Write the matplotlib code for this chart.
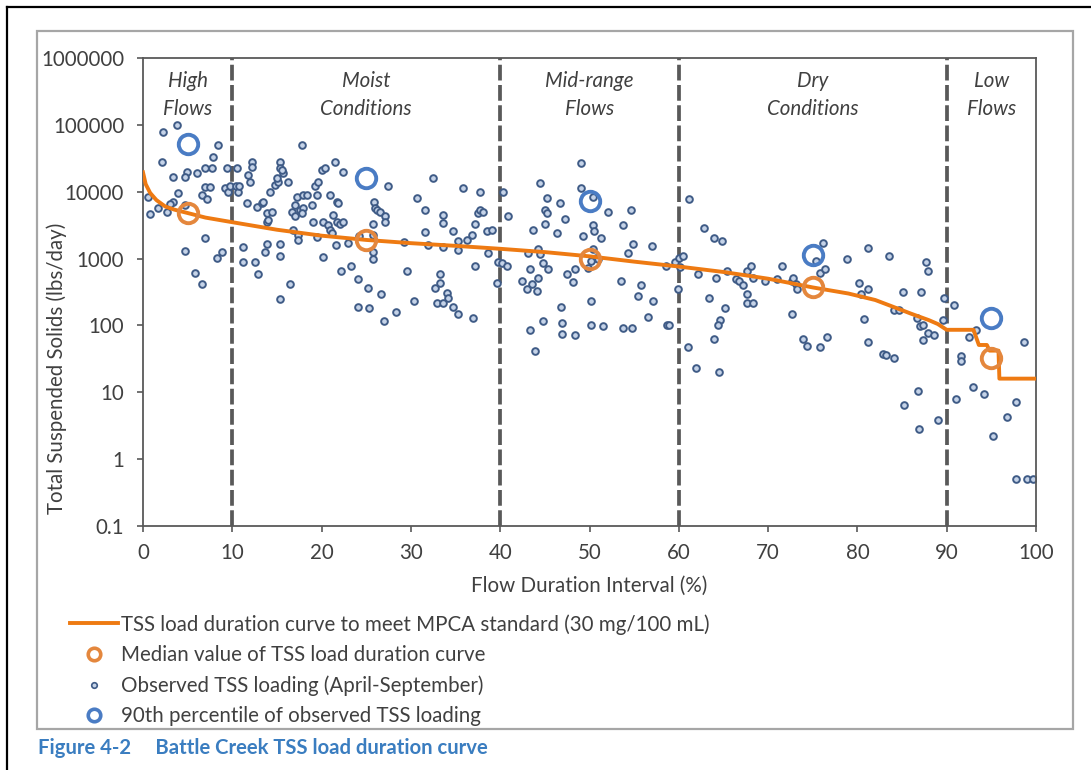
import matplotlib
matplotlib.use("Agg")
import matplotlib.pyplot as plt
from matplotlib.lines import Line2D
from matplotlib.patches import Rectangle
from matplotlib.ticker import FixedLocator, FuncFormatter, NullLocator

plt.rcParams["font.family"] = ["Lato", "DejaVu Sans"]

# load duration curve (flow %, lbs/day)
curve_x = [0, 0.3, 0.8, 1.5, 2.5, 3.5, 5, 7, 10, 15, 20, 25, 30, 35, 40, 45, 50, 55,
           60, 65, 70, 75, 79, 82, 84, 86, 88, 89, 90, 93.0, 93.6, 94.5, 94.8, 95.8, 95.9, 100]
curve_y = [19500, 13000, 9600, 7500, 6000, 5400, 4800, 4100, 3500, 2700, 2200, 1900, 1700, 1550,
           1400, 1250, 1080, 900, 760, 630, 500, 370, 300, 240, 190, 150, 120, 105, 86, 86, 51, 51,
           42, 42, 16, 16]

# medians and 90th percentiles per flow zone
zone_mid = [5, 25, 50, 75, 95]
median_load = [4800, 1900, 1000, 370, 33]
p90_load = [51000, 16000, 7300, 1150, 128]

zone_lines = [10, 40, 60, 90]
zone_names = ["High\nFlows", "Moist\nConditions", "Mid-range\nFlows", "Dry\nConditions", "Low\nFlows"]

# observed loads
high_x = [2.2, 3.8, 2.1, 8.4, 7.8, 3.4, 4.9, 4.7, 6.0, 6.9, 7.7, 6.9, 7.5, 3.9, 6.6, 7.2, 0.6, 3.4,
          3.0, 1.7, 2.7, 0.8, 4.7, 6.9, 4.7, 5.8, 6.6, 8.3, 8.8, 9.4, 9.2, 9.5, 9.7]
high_y = [78000, 100000, 28000, 50000, 33000, 16500, 20000, 16500, 19000, 22500, 22500, 11700,
          11700, 9500, 9000, 7800, 8300, 7000, 6600, 5800, 5000, 4600, 6300, 2000, 1300, 600, 420,
          1030, 1250, 22500, 11300, 10000, 12300]

moist_x = [10.4, 10.5, 10.6, 10.8, 12.2, 12.2, 11.8, 12.0, 11.6, 11.2, 11.2, 12.5, 12.9, 13.9, 13.7,
           12.8, 13.3, 13.4, 13.9, 14.4, 13.9, 14.0, 14.2, 14.8, 15.1, 15.0, 15.3, 15.3, 15.7, 15.6,
           16.2, 15.3, 15.3, 16.5, 15.3, 17.8, 17.2, 17.0, 17.9, 16.7, 17.0, 16.8, 17.4, 17.4, 17.6,
           17.9, 17.8, 18.4, 18.9, 19.0, 19.5, 19.3, 19.6, 19.5, 20.0, 20.4, 20.2, 20.7, 20.9, 21.2,
           20.9, 21.3, 21.7, 21.8, 21.5, 22.4, 21.7, 22.1, 22.4, 20.2, 21.6, 22.2, 23.3, 23.0, 24.1,
           25.2, 24.1, 25.3, 26.7, 27.0, 28.3, 25.9, 26.0, 26.2, 26.5, 27.1, 27.1, 25.8, 25.8, 25.8,
           25.8, 27.4, 24.2, 29.2, 29.6, 30.3, 30.7, 31.6, 31.6, 31.9, 32.5, 32.7, 33.3, 33.3, 34.0,
           34.2, 32.9, 33.6, 34.7, 33.6, 33.6, 33.6, 34.7, 35.3, 35.3, 35.3, 35.8, 36.3, 36.8, 37.0,
           37.2, 37.5, 37.7, 37.7, 38.1, 38.5, 39.1, 38.6, 37.2, 39.6, 39.8]
moist_y = [12300, 22500, 10000, 12300, 28000, 23500, 18000, 14000, 6800, 1500, 900, 880, 590, 1650,
           1250, 6000, 6800, 7000, 4800, 5000, 3500, 3800, 10000, 12700, 14000, 16000, 28000, 22500,
           19000, 21000, 14000, 1650, 1100, 420, 250, 50000, 8300, 6300, 9000, 5000, 4300, 2700, 2250,
           1900, 5300, 5800, 4800, 9000, 6300, 3500, 2100, 12000, 14000, 9000, 21000, 22500, 3500,
           3200, 2700, 2400, 9000, 4500, 7000, 6800, 28000, 19500, 3500, 3300, 3500, 1050, 1600, 650,
           780, 1700, 500, 360, 190, 180, 300, 115, 160, 7000, 5800, 5300, 5000, 4300, 3500, 3300,
           2250, 1250, 1000, 12000, 2200, 1800, 650, 230, 8100, 5300, 2500, 1600, 16000, 360, 430,
           590, 310, 260, 215, 215, 190, 4500, 3400, 1500, 2550, 1850, 150, 1350, 11300, 1900, 2250,
           130, 3300, 4800, 5300, 10000, 5000, 2550, 2700, 1200, 780, 430, 880]

mid_x = [40.2, 40.8, 40.3, 40.9, 44.5, 45.2, 45.0, 45.2, 45.0, 43.7, 46.4, 46.7, 47.3, 49.0, 49.0,
         43.1, 44.2, 44.5, 44.8, 45.4, 43.3, 44.2, 42.4, 43.0, 43.6, 44.1, 47.5, 48.4, 48.2, 49.3,
         50.4, 50.5, 51.3, 50.4, 50.7, 50.2, 49.8, 51.0, 52.1, 53.8, 54.6, 54.9, 54.3, 57.0, 53.5,
         55.8, 55.4, 57.1, 50.2, 46.8, 58.6, 59.6, 60.0, 60.5, 60.1, 59.9, 58.7, 58.9, 43.3, 43.9,
         44.8, 46.9, 46.9, 48.4, 50.2, 51.5, 53.8, 54.8, 56.6, 50.4]
mid_y = [850, 780, 10000, 4300, 13500, 8100, 5300, 4800, 3300, 2700, 2450, 6800, 3900, 27000, 11300,
         1200, 1400, 1170, 850, 700, 700, 510, 460, 350, 410, 330, 590, 700, 450, 2200, 3200, 2550,
         2000, 1400, 1030, 920, 730, 1000, 5000, 3200, 5300, 1650, 1200, 1550, 460, 400, 280, 230,
         230, 190, 780, 880, 1030, 1100, 760, 350, 100, 100, 85, 42, 115, 110, 75, 72, 100, 97, 90,
         90, 135, 8300]

dry_x = [61.1, 62.8, 63.9, 64.8, 62.2, 64.2, 65.4, 67.6, 68.1, 66.4, 66.7, 67.2, 67.6, 68.3, 67.6,
         68.3, 63.4, 65.2, 64.6, 64.4, 63.9, 61.0, 61.9, 64.5, 69.7, 71.0, 71.6, 72.7, 72.8, 73.1,
         73.2, 72.7, 73.9, 74.4, 75.8, 76.6, 75.4, 75.8, 76.4, 76.2, 78.8, 80.2, 80.4, 81.2, 81.2,
         80.7, 81.2, 83.5, 87.7, 87.9, 85.1, 87.1, 84.1, 84.7, 86.7, 87.0, 87.3, 87.3, 87.9, 88.6,
         82.9, 83.2, 84.1, 86.8, 85.2, 86.9, 89.0, 89.7, 89.6]
dry_y = [7700, 2850, 2000, 1850, 590, 520, 650, 650, 780, 500, 460, 400, 300, 520, 215, 215, 260,
         180, 120, 100, 63, 47, 23, 20, 460, 500, 780, 460, 520, 420, 350, 150, 63, 50, 48, 67, 930,
         610, 700, 1700, 1000, 430, 300, 350, 1450, 125, 57, 1100, 880, 650, 320, 320, 170, 170, 130,
         97, 100, 60, 78, 72, 38, 36, 33, 10.5, 6.4, 2.8, 3.9, 260, 120]

low_x = [90.8, 92.5, 93.3, 91.6, 91.6, 91.0, 92.9, 94.2, 95.2, 96.8, 97.8, 98.7, 97.8, 99.0, 99.7]
low_y = [200, 68, 86, 35, 29, 8, 12, 9.5, 2.2, 4.2, 7.2, 57, 0.5, 0.5, 0.5]

obs_x = high_x + moist_x + mid_x + dry_x + low_x
obs_y = high_y + moist_y + mid_y + dry_y + low_y

ORANGE = "#EE7A12"
MED_ORANGE = "#E4873D"
BLUE = "#4A7CC4"
DOT_EDGE = "#3F5B86"
DOT_FACE = "#C5D3E8"
GREY = "#595959"
TXT = "#404040"
FS = 14.8

fig = plt.figure(figsize=(10.91, 7.70), dpi=100)
W, H = 1091, 770

# page frame and chart border
fig.add_artist(Line2D([7 / W, 7 / W], [0, 1 - 7 / H], color="black", lw=1.6))
fig.add_artist(Line2D([7 / W, 1], [1 - 7 / H, 1 - 7 / H], color="black", lw=1.6))
fig.add_artist(Rectangle((37 / W, 1 - 729 / H), (1073 - 37) / W, (729 - 31) / H,
                         fill=False, edgecolor="#A6A6A6", lw=1.6))

ax = fig.add_axes([143 / W, 1 - 526 / H, (1036 - 143) / W, (526 - 58) / H])
ax.set_yscale("log")
ax.set_xlim(0, 100)
ax.set_ylim(0.1, 1000000)

for xv in zone_lines:
    ax.axvline(xv, color=GREY, lw=2.7, dashes=(4.2, 1.2), zorder=1)

ax.plot(obs_x, obs_y, "o", ms=4.8, mfc=DOT_FACE, mec=DOT_EDGE, mew=1.4, ls="none", zorder=2)
ax.plot(curve_x, curve_y, color=ORANGE, lw=2.8, zorder=3)
ax.plot(zone_mid, median_load, "o", ms=14, mfc="none", mec=MED_ORANGE, mew=2.8, zorder=4)
ax.plot(zone_mid, p90_load, "o", ms=14, mfc="none", mec=BLUE, mew=2.8, zorder=4)

for xm, name in zip(zone_mid, zone_names):
    ax.text(xm, 280000, name, ha="center", va="center", style="italic",
            fontsize=FS, color=TXT, linespacing=1.45)

ax.yaxis.set_major_locator(FixedLocator([0.1, 1, 10, 100, 1000, 10000, 100000, 1000000]))
ax.yaxis.set_minor_locator(NullLocator())
ax.yaxis.set_major_formatter(FuncFormatter(lambda v, p: f"{v:.1f}" if v < 1 else f"{int(round(v))}"))
ax.set_xticks(range(0, 101, 10))
ax.tick_params(axis="both", direction="out", length=4.5, width=1.2, color=GREY,
               labelsize=FS, labelcolor=TXT)
ax.tick_params(axis="y", pad=9)
ax.tick_params(axis="x", pad=8)
for sp in ax.spines.values():
    sp.set_color(GREY)
    sp.set_linewidth(1.3)

ax.set_xlabel("Flow Duration Interval (%)", fontsize=FS, color=TXT, labelpad=9)
# y label sits low, starting near the bottom of the axis
fig.text(57 / W, 1 - 514 / H, "Total Suspended Solids (lbs/day)", rotation=90,
         ha="center", va="bottom", fontsize=FS, color=TXT)

handles = [
    Line2D([], [], color=ORANGE, lw=2.8),
    Line2D([], [], marker="o", ls="none", ms=9, mfc="none", mec=MED_ORANGE, mew=2.6),
    Line2D([], [], marker="o", ls="none", ms=4, mfc=DOT_FACE, mec=DOT_EDGE, mew=1.2),
    Line2D([], [], marker="o", ls="none", ms=9, mfc="none", mec=BLUE, mew=2.6),
]
labels = [
    "TSS load duration curve to meet MPCA standard (30 mg/100 mL)",
    "Median value of TSS load duration curve",
    "Observed TSS loading (April-September)",
    "90th percentile of observed TSS loading",
]
fig.legend(handles, labels, loc="upper left", bbox_to_anchor=(70 / W, 1 - 614 / H),
           frameon=False, fontsize=FS, handlelength=2.35, handletextpad=0.12,
           labelspacing=0.5, borderaxespad=0, borderpad=0, labelcolor=TXT)

fig.text(38 / W, 1 - 748 / H, "Figure 4-2     Battle Creek TSS load duration curve",
         color="#3A7DC0", fontsize=14.6, fontweight="bold", va="center", ha="left")

fig.savefig("out.png", dpi=100)
